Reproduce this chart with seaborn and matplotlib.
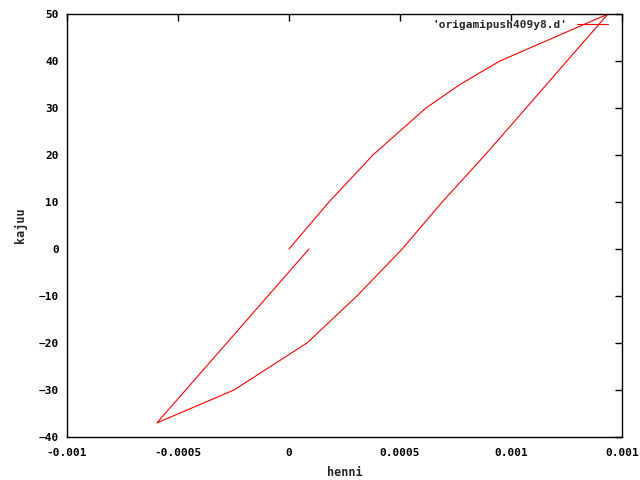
import matplotlib
matplotlib.use("Agg")
import matplotlib.pyplot as plt
import seaborn as sns
import pandas as pd

# upper branch (loading), lower branch (unloading), return branch
upper_x = [0.0, 0.00018, 0.000378, 0.000617, 0.00077, 0.00095, 0.001437]
upper_y = [0, 10, 20, 30, 35, 40, 50]
lower_x = [0.001252, 0.001068, 0.000883, 0.00069, 0.00051, 0.000306, 0.000081, -0.000248, -0.000595]
lower_y = [40, 30, 20, 10, 0, -10, -20, -30, -37]
return_x = [0.00009]
return_y = [0]

xticks = [-0.001, -0.0005, 0, 0.0005, 0.001, 0.0015]
xticklabels = ["-0.001", "-0.0005", "0", "0.0005", "0.001", "0.001"]
yticks = [-40, -30, -20, -10, 0, 10, 20, 30, 40, 50]

sns.set_style("white")
plt.rcParams['font.family'] = ['DejaVu Sans Mono', 'DejaVu Sans']
plt.rcParams['font.weight'] = 'bold'

xs = upper_x + lower_x + return_x
ys = upper_y + lower_y + return_y
df = pd.DataFrame({"henni": xs, "kajuu": ys, "order": range(len(xs))})

fig = plt.figure(figsize=(6.4, 4.8), dpi=100)
ax = fig.add_axes([67/640, 43/480, 555/640, 423/480])
sns.lineplot(data=df, x="henni", y="kajuu", sort=False, estimator=None,
             color="red", linewidth=0.8, ax=ax, label="'origamipush409y8.d'")

ax.set_xlim(-0.001, 0.0015)
ax.set_ylim(-40, 50)
ax.set_xticks(xticks)
ax.set_xticklabels(xticklabels)
ax.set_yticks(yticks)
ax.tick_params(direction="in", length=5, width=1, top=True, right=True,
               labelsize=8, colors="black")
ax.tick_params(axis="x", pad=8)
ax.tick_params(axis="y", pad=6)
for s in ax.spines.values():
    s.set_color("black")
    s.set_linewidth(1)
    s.set_visible(True)
ax.set_xlabel("henni", fontsize=8.5, fontweight="bold", labelpad=6)
ax.set_ylabel("kajuu", fontsize=8.5, fontweight="bold", labelpad=8)
ax.legend(loc="upper right", bbox_to_anchor=(0.9748, 0.987), frameon=False,
          markerfirst=False, handlelength=2.8, fontsize=8, borderaxespad=0,
          borderpad=0, handletextpad=0.9)

fig.savefig("out.png", dpi=100)
